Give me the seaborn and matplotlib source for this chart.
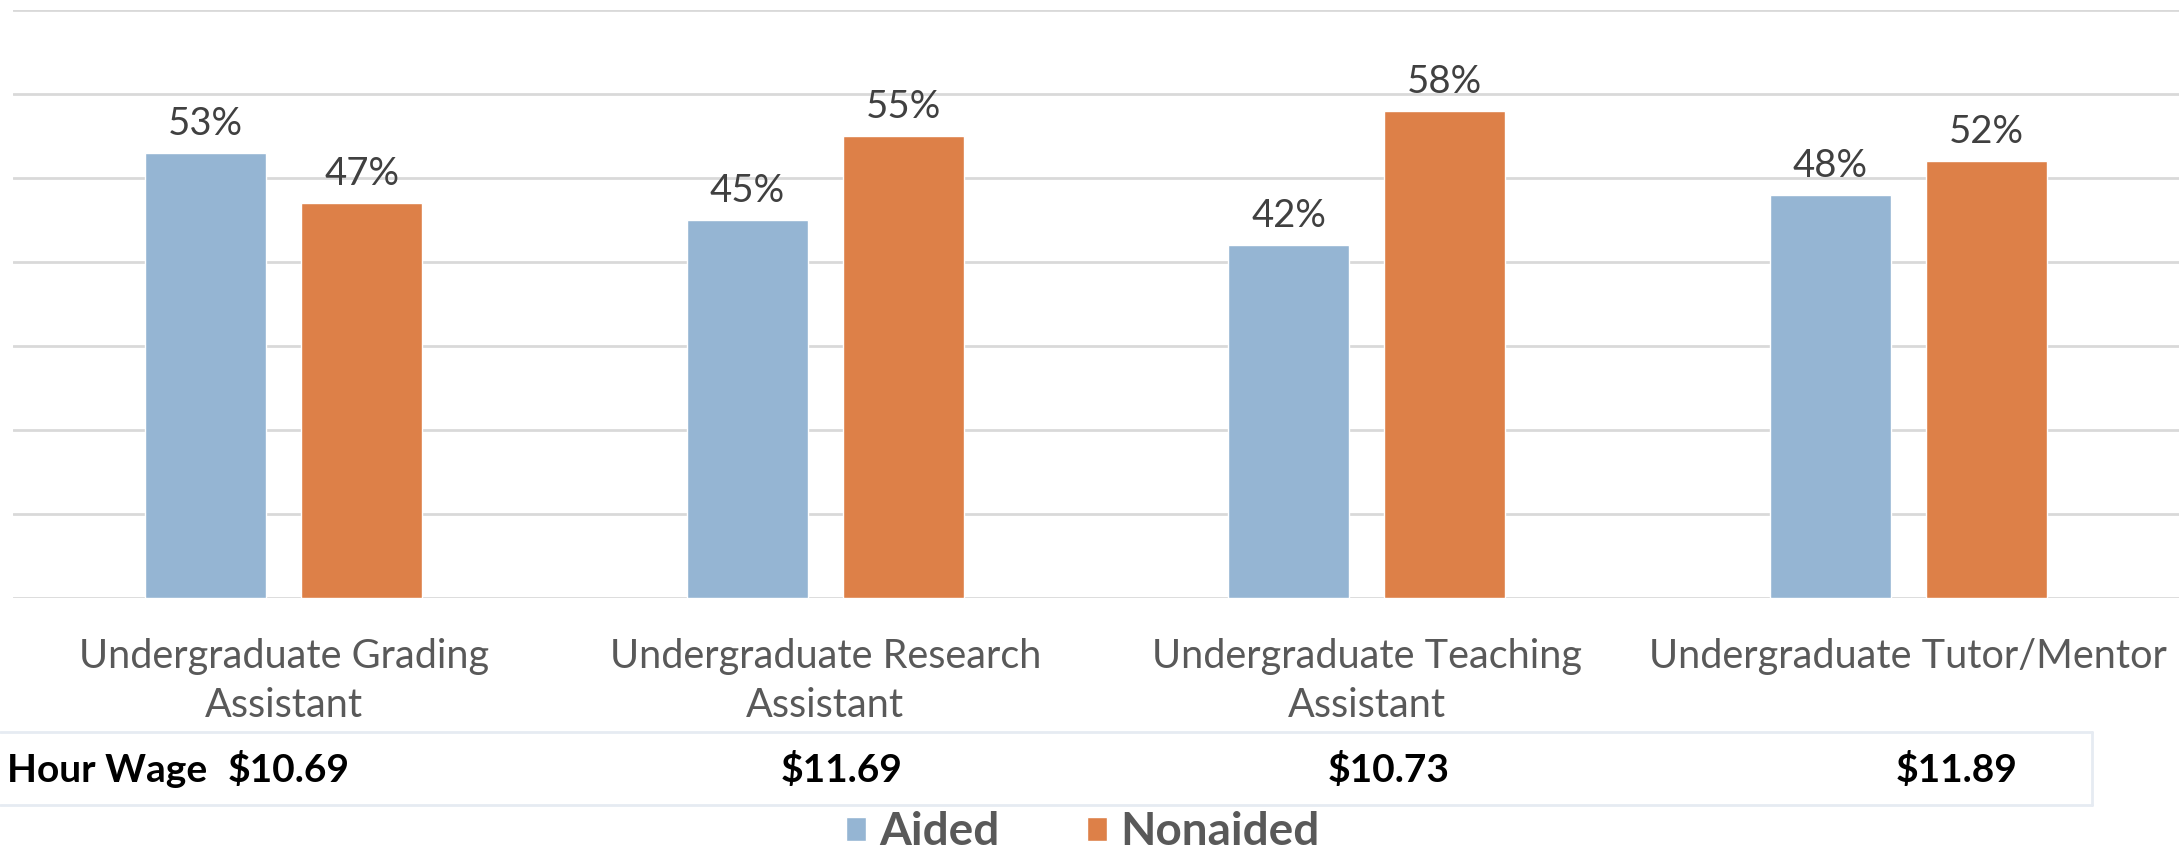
import matplotlib
matplotlib.use('Agg')
import matplotlib.pyplot as plt
import seaborn as sns
import pandas as pd
from matplotlib.lines import Line2D
from matplotlib.patches import Patch
import matplotlib.transforms as mtransforms

# data
categories = [
    "Undergraduate Grading\nAssistant",
    "Undergraduate Research\nAssistant",
    "Undergraduate Teaching\nAssistant",
    "Undergraduate Tutor/Mentor",
]
aided = [53, 45, 42, 48]
nonaided = [47, 55, 58, 52]
hour_wages = ["$10.69", "$11.69", "$10.73", "$11.89"]
groups = ["Aided", "Nonaided"]

BLUE = '#95B5D3'
ORANGE = '#DD8048'
GRID = '#D9D9D9'
TEXT_GRAY = '#595959'

df = pd.DataFrame({
    "Job": categories * 2,
    "Group": [groups[0]] * len(aided) + [groups[1]] * len(nonaided),
    "Share": aided + nonaided,
})

sns.set_theme(style="white")
plt.rcParams['font.family'] = ['Lato', 'DejaVu Sans']

W, H = 2179, 851
fig = plt.figure(figsize=(W / 100, H / 100), dpi=100)
ax = fig.add_axes([13 / W, 1 - 598 / H, 1 - 13 / W, (598 - 10) / H])

sns.barplot(
    data=df, x="Job", y="Share", hue="Group",
    palette=[BLUE, ORANGE], saturation=1,
    width=0.576, gap=0.222, ax=ax, legend=False,
)

ax.set_xlim(-0.5, 3.5)
ax.set_ylim(0, 70)
ax.set_yticks(range(0, 71, 10))
ax.set_yticklabels([])
ax.yaxis.grid(True, color=GRID, linewidth=2)
ax.set_axisbelow(True)
for s in ax.spines.values():
    s.set_visible(False)
ax.set_xlabel("")
ax.set_ylabel("")
ax.tick_params(axis='x', length=0, pad=29, labelsize=28.5, labelcolor=TEXT_GRAY)
ax.tick_params(axis='y', length=0)
for lbl in ax.get_xticklabels():
    lbl.set_linespacing(1.4)

for cont in ax.containers:
    ax.bar_label(cont, fmt='%d%%', padding=8, fontsize=27.5, color='#404040')

# wage table below the axis labels
line_kw = dict(color='#E6EBF2', linewidth=2, transform=fig.transFigure)
fig.add_artist(Line2D([0, 2092 / W], [1 - 732 / H, 1 - 732 / H], **line_kw))
fig.add_artist(Line2D([0, 2092 / W], [1 - 805 / H, 1 - 805 / H], **line_kw))
fig.add_artist(Line2D([2092 / W, 2092 / W], [1 - 732 / H, 1 - 805 / H], **line_kw))

fig.text(7 / W, 1 - 770 / H, "Hour Wage", fontsize=28, fontweight='bold',
         color='black', va='center', ha='left')
wage_x = [0.01, 1.03, 2.04, 3.09]
trans = mtransforms.blended_transform_factory(ax.transData, fig.transFigure)
for x, w in zip(wage_x, hour_wages):
    ax.text(x, 1 - 770 / H, w, transform=trans, fontsize=28, fontweight='bold',
            color='black', va='center', ha='center', clip_on=False)

handles = [Patch(facecolor=BLUE, label=groups[0]), Patch(facecolor=ORANGE, label=groups[1])]
fig.legend(handles=handles, loc='center', bbox_to_anchor=(0.497, 1 - 832 / H),
           ncol=2, frameon=False, handlelength=0.43, handleheight=0.43,
           handletextpad=0.3, columnspacing=1.9,
           prop={'size': 33, 'weight': 'bold'}, labelcolor=TEXT_GRAY)

fig.savefig("out.png", dpi=100)
plt.close(fig)
